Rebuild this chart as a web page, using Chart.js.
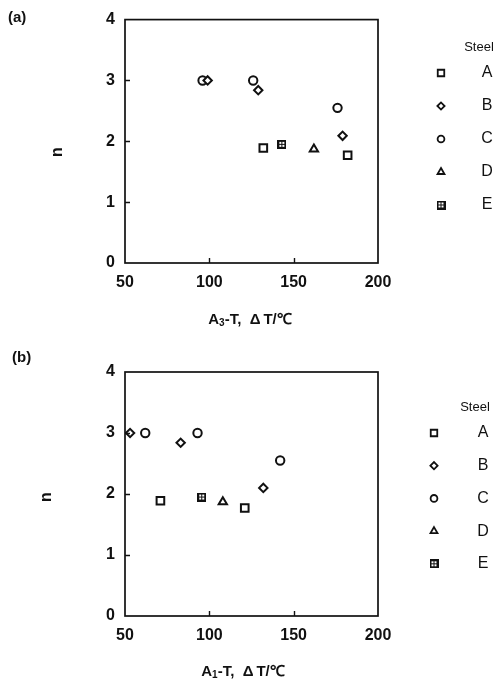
<!DOCTYPE html>
<html>
<head>
<meta charset="utf-8">
<script src="https://cdn.jsdelivr.net/npm/chart.js@4/dist/chart.umd.min.js"></script>
<style>
  html, body { margin: 0; padding: 0; background: #fff; }
  .panel { position: absolute; left: 0; width: 503px; height: 343px; }
  #panelA { top: 0; }
  #panelB { top: 343px; }
</style>
</head>
<body>
<div class="panel" id="panelA"><canvas id="chartA" width="503" height="343"></canvas></div>
<div class="panel" id="panelB"><canvas id="chartB" width="503" height="343"></canvas></div>
<script>
// Steel grades and their exponent n versus undercooling
const steels = ['A', 'B', 'C', 'D', 'E'];
const xTicks = [50, 100, 150, 200];
const yTicks = [0, 1, 2, 3, 4];

// (a) undercooling below A3
const a3SteelA = [{x: 132, y: 1.89}, {x: 182, y: 1.77}];
const a3SteelB = [{x: 99, y: 3.0}, {x: 129, y: 2.84}, {x: 179, y: 2.09}];
const a3SteelC = [{x: 96, y: 3.0}, {x: 126, y: 3.0}, {x: 176, y: 2.55}];
const a3SteelD = [{x: 162, y: 1.87}];
const a3SteelE = [{x: 143, y: 1.95}];

// (b) undercooling below A1
const a1SteelA = [{x: 71, y: 1.89}, {x: 121, y: 1.77}];
const a1SteelB = [{x: 53, y: 3.0}, {x: 83, y: 2.84}, {x: 132, y: 2.10}];
const a1SteelC = [{x: 62, y: 3.0}, {x: 93, y: 3.0}, {x: 142, y: 2.55}];
const a1SteelD = [{x: 108, y: 1.87}];
const a1SteelE = [{x: 95.5, y: 1.95}];

const INK = '#111';
const FONT = '"Liberation Sans", Arial, Helvetica, sans-serif';

// square marker with a cross dividing it into four windows
function crossedSquare(size) {
  const c = document.createElement('canvas');
  c.width = size; c.height = size;
  const g = c.getContext('2d');
  g.fillStyle = INK;
  g.fillRect(0, 0, size, size);
  g.fillStyle = '#fff';
  const w = Math.floor((size - 5) / 2);
  g.fillRect(2, 2, w, w);
  g.fillRect(size - 2 - w, 2, w, w);
  g.fillRect(2, size - 2 - w, w, w);
  g.fillRect(size - 2 - w, size - 2 - w, w, w);
  return c;
}

const styles = ['rect', 'rectRot', 'circle', 'triangle', crossedSquare(9)];
const legendStyles = ['rect', 'rectRot', 'circle', 'triangle', crossedSquare(9)];
const radii = [5.4, 4.2, 4.2, 4.8, 4.5];
const legendRadii = [4.6, 3.6, 3.4, 4, 4];

function makePanel(canvasId, series, cfg) {
  const datasets = series.map((pts, i) => ({
    label: steels[i],
    data: pts,
    pointStyle: styles[i],
    pointRadius: radii[i],
    pointBorderWidth: 2,
    borderColor: INK,
    backgroundColor: '#fff',
    pointBackgroundColor: '#fff',
    pointBorderColor: INK
  }));

  const decor = {
    id: 'decor',
    afterDraw(chart) {
      const ctx = chart.ctx;
      const area = chart.chartArea;
      const xs = chart.scales.x, ys = chart.scales.y;
      ctx.save();
      // frame
      ctx.strokeStyle = INK;
      ctx.lineWidth = 1.7;
      ctx.strokeRect(area.left, area.top, area.right - area.left, area.bottom - area.top);
      // inward tick marks
      ctx.lineWidth = 1.4;
      ctx.beginPath();
      yTicks.slice(1, -1).forEach(v => {
        const y = Math.round(ys.getPixelForValue(v)) + 0.5;
        ctx.moveTo(area.left, y); ctx.lineTo(area.left + 5, y);
      });
      xTicks.slice(1, -1).forEach(v => {
        const x = Math.round(xs.getPixelForValue(v)) + 0.5;
        ctx.moveTo(x, area.bottom); ctx.lineTo(x, area.bottom - 5);
      });
      ctx.stroke();

      ctx.fillStyle = INK;
      // panel tag
      ctx.font = 'bold 15px ' + FONT;
      ctx.textAlign = 'left';
      ctx.textBaseline = 'middle';
      ctx.fillText(cfg.tag, cfg.tagX, cfg.tagY);

      // y title, rotated
      ctx.save();
      ctx.translate(cfg.nX, cfg.nY);
      ctx.rotate(-Math.PI / 2);
      ctx.font = 'bold 16px ' + FONT;
      ctx.textAlign = 'center';
      ctx.fillText('n', 0, 0);
      ctx.restore();

      // x title with subscript
      const parts = [
        {t: 'A', f: 'bold 15px ' + FONT, dy: 0},
        {t: cfg.sub, f: 'bold 10px ' + FONT, dy: 3},
        {t: '-T,  \u0394\u2009T/\u2103', f: 'bold 15px ' + FONT, dy: 0}
      ];
      let total = 0;
      parts.forEach(p => { ctx.font = p.f; p.w = ctx.measureText(p.t).width; total += p.w; });
      let x = cfg.titleX - total / 2;
      ctx.textAlign = 'left';
      parts.forEach(p => { ctx.font = p.f; ctx.fillText(p.t, x, cfg.titleY + p.dy); x += p.w; });

      // legend
      ctx.font = '13px ' + FONT;
      ctx.textAlign = 'center';
      ctx.fillText('Steel', cfg.legTextX - 8, cfg.legTitleY);
      steels.forEach((s, i) => {
        const y = cfg.legY0 + i * cfg.legStep;
        ctx.fillStyle = '#fff';
        ctx.strokeStyle = INK;
        ctx.lineWidth = 1.8;
        Chart.helpers.drawPoint(ctx, {
          pointStyle: legendStyles[i], radius: legendRadii[i], rotation: 0, borderWidth: 1.8
        }, cfg.legSymX, y);
        ctx.fillStyle = INK;
        ctx.font = '16px ' + FONT;
        ctx.fillText(s, cfg.legTextX, y);
      });
      ctx.restore();
    }
  };

  return new Chart(document.getElementById(canvasId), {
    type: 'scatter',
    data: { datasets },
    options: {
      responsive: false,
      animation: false,
      events: [],
      layout: { padding: { left: 65, right: 125, top: cfg.padTop, bottom: cfg.padBottom } },
      plugins: { legend: { display: false }, tooltip: { enabled: false } },
      scales: {
        x: {
          type: 'linear', min: 50, max: 200,
          afterBuildTicks(scale) { scale.ticks = xTicks.map(v => ({value: v})); },
          afterFit(scale) { scale.height = 40; },
          grid: { display: false, drawTicks: false },
          border: { display: false },
          ticks: { color: INK, padding: 10, font: { family: FONT, size: 16, weight: 'bold' } }
        },
        y: {
          type: 'linear', min: 0, max: 4,
          afterBuildTicks(scale) { scale.ticks = yTicks.map(v => ({value: v})); },
          afterFit(scale) { scale.width = 60; },
          grid: { display: false, drawTicks: false },
          border: { display: false },
          ticks: { color: INK, padding: 10, font: { family: FONT, size: 16, weight: 'bold' } }
        }
      }
    },
    plugins: [decor]
  });
}

makePanel('chartA', [a3SteelA, a3SteelB, a3SteelC, a3SteelD, a3SteelE], {
  padTop: 18, padBottom: 40,
  tag: '(a)', tagX: 8, tagY: 18,
  nX: 58, nY: 152,
  sub: '3', titleX: 250, titleY: 320,
  legSymX: 441, legTextX: 487, legTitleY: 47, legY0: 73, legStep: 33
});

makePanel('chartB', [a1SteelA, a1SteelB, a1SteelC, a1SteelD, a1SteelE], {
  padTop: 29, padBottom: 30,
  tag: '(b)', tagX: 12, tagY: 15,
  nX: 47, nY: 154,
  sub: '1', titleX: 243, titleY: 329,
  legSymX: 434, legTextX: 483, legTitleY: 64, legY0: 90, legStep: 32.7
});
</script>
</body>
</html>
